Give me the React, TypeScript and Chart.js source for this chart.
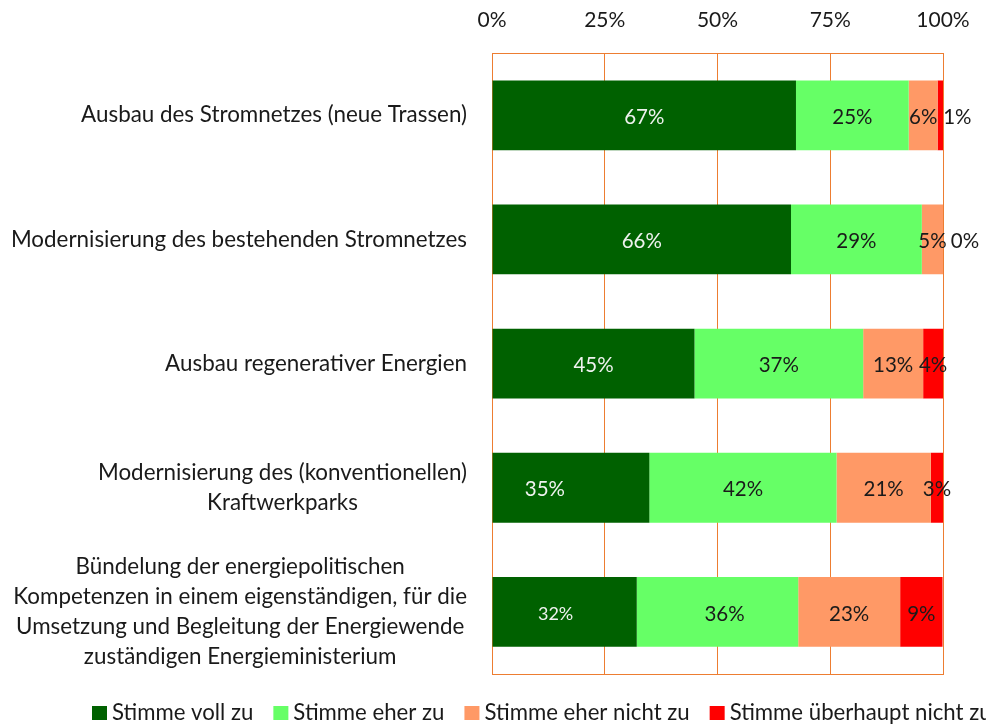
import { useEffect, useRef } from 'react';
import { Chart, registerables } from 'chart.js';

Chart.register(...registerables);

const categories: string[][] = [
  ['Ausbau des Stromnetzes (neue Trassen)'],
  ['Modernisierung des bestehenden Stromnetzes'],
  ['Ausbau regenerativer Energien'],
  ['Modernisierung des (konventionellen)', 'Kraftwerkparks'],
  [
    'Bündelung der energiepolitischen',
    'Kompetenzen in einem eigenständigen, für die',
    'Umsetzung und Begleitung der Energiewende',
    'zuständigen Energieministerium',
  ],
];

const seriesNames = ['Stimme voll zu', 'Stimme eher zu', 'Stimme eher nicht zu', 'Stimme überhaupt nicht zu'];
const vollZu = [67.4, 66.3, 44.9, 34.9, 32.1];
const eherZu = [25.0, 29.0, 37.4, 41.5, 35.8];
const eherNichtZu = [6.4, 4.7, 13.3, 20.9, 22.6];
const ueberhauptNichtZu = [1.2, 0.0, 4.4, 2.7, 9.4];
const xTickValues = [0, 25, 50, 75, 100];

const seriesColors = ['#006100', '#66FF66', '#FF9966', '#FF0000'];
const FONT = 'Lato';
const ORANGE = '#ED7D31';
const TEXT = '#1a1a1a';
const SHIFT = 19; // canvas is placed this many px above the page top

// style: nudges of some value labels (dataset-category) and special font sizes
const labelNudgeX: Record<string, number> = { '3-0': 17, '3-1': 22, '0-3': -26, '0-4': -9, '1-4': 7 };
const labelFontSize: Record<string, number> = { '0-4': 18 };

const framePlugin = {
  id: 'frame',
  beforeDatasetsDraw(chart: any) {
    const { ctx, chartArea } = chart;
    ctx.save();
    ctx.strokeStyle = ORANGE;
    ctx.lineWidth = 1;
    ctx.strokeRect(
      Math.round(chartArea.left) + 0.5,
      Math.round(chartArea.top) + 0.5,
      Math.round(chartArea.right - chartArea.left),
      Math.round(chartArea.bottom - chartArea.top)
    );
    ctx.restore();
  },
};

const valueLabelPlugin = {
  id: 'valueLabels',
  afterDatasetsDraw(chart: any) {
    const ctx = chart.ctx;
    ctx.save();
    ctx.textAlign = 'center';
    ctx.textBaseline = 'middle';
    chart.data.datasets.forEach((ds: any, di: number) => {
      const meta = chart.getDatasetMeta(di);
      meta.data.forEach((el: any, i: number) => {
        const key = `${di}-${i}`;
        const v = ds.data[i] as number;
        const cx = (el.x + el.base) / 2 + (labelNudgeX[key] ?? 0);
        ctx.font = `${labelFontSize[key] ?? 20.5}px ${FONT}`;
        ctx.fillStyle = di === 0 ? '#eef2ee' : TEXT;
        ctx.fillText(`${Math.round(v)}%`, cx, el.y + 2);
      });
    });
    ctx.restore();
  },
};

const categoryLabelPlugin = {
  id: 'categoryLabels',
  afterDraw(chart: any) {
    const { ctx, chartArea } = chart;
    const yScale = chart.scales.y;
    const lineH = 30;
    const rightEdge = chartArea.left - 25;
    ctx.save();
    ctx.font = `22.4px ${FONT}`;
    ctx.fillStyle = TEXT;
    ctx.textAlign = 'center';
    ctx.textBaseline = 'middle';
    categories.forEach((lines, i) => {
      const cy = yScale.getPixelForValue(i);
      const widest = Math.max(...lines.map((l) => ctx.measureText(l).width));
      const cx = rightEdge - widest / 2;
      const y0 = cy - ((lines.length - 1) * lineH) / 2;
      lines.forEach((l, j) => ctx.fillText(l, cx, y0 + j * lineH));
    });
    ctx.restore();
  },
};

const legendPlugin = {
  id: 'customLegend',
  afterDraw(chart: any) {
    const ctx = chart.ctx;
    const y = 713 + SHIFT;
    let x = 92;
    ctx.save();
    ctx.font = `22.2px ${FONT}`;
    ctx.textBaseline = 'middle';
    ctx.textAlign = 'left';
    seriesNames.forEach((name, i) => {
      ctx.fillStyle = seriesColors[i];
      ctx.fillRect(x, y - 7, 15, 14);
      x += 20;
      ctx.fillStyle = TEXT;
      ctx.fillText(name, x, y);
      x += ctx.measureText(name).width + 20;
    });
    ctx.restore();
  },
};

export default function App() {
  const ref = useRef<HTMLCanvasElement>(null);
  useEffect(() => {
    const seriesValues = [vollZu, eherZu, eherNichtZu, ueberhauptNichtZu];
    const chart = new Chart(ref.current!, {
      type: 'bar',
      data: {
        labels: categories,
        datasets: seriesNames.map((name, i) => ({
          label: name,
          data: seriesValues[i],
          backgroundColor: seriesColors[i],
          borderWidth: 0,
          barPercentage: 1,
          categoryPercentage: 0.562,
        })),
      },
      options: {
        indexAxis: 'y',
        animation: false,
        responsive: true,
        maintainAspectRatio: false,
        layout: { padding: { left: 492, right: 43, top: 7, bottom: 52 } },
        plugins: { legend: { display: false }, tooltip: { enabled: false } },
        scales: {
          x: {
            position: 'top',
            stacked: true,
            min: 0,
            max: 100,
            afterBuildTicks: (axis: any) => {
              axis.ticks = xTickValues.map((v) => ({ value: v }));
            },
            afterFit: (axis: any) => {
              axis.paddingLeft = 0;
              axis.paddingRight = 0;
            },
            ticks: {
              padding: 20,
              color: TEXT,
              font: { family: FONT, size: 21 },
              callback: (v: any) => `${v}%`,
            },
            grid: { color: ORANGE, lineWidth: 1, drawTicks: false },
            border: { display: true, color: ORANGE },
          },
          y: {
            stacked: true,
            display: false,
          },
        },
      },
      plugins: [framePlugin, valueLabelPlugin, categoryLabelPlugin, legendPlugin],
    });
    return () => chart.destroy();
  }, []);
  return (
    <div
      style={{
        position: 'fixed',
        left: 0,
        top: -SHIFT,
        width: 986,
        height: 726 + SHIFT,
        background: '#fff',
        overflow: 'hidden',
      }}
    >
      <canvas ref={ref} />
    </div>
  );
}
